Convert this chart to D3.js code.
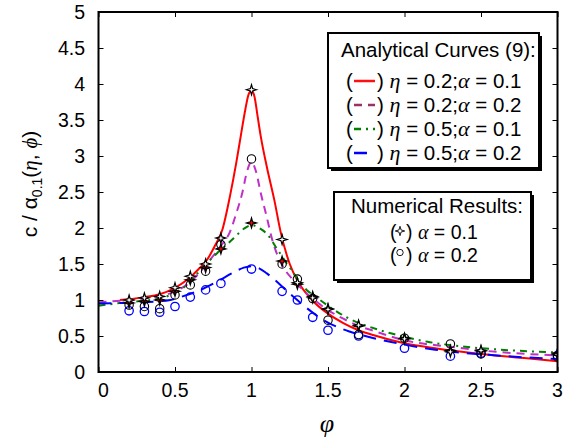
<!DOCTYPE html>
<html><head><meta charset="utf-8">
<script src="https://cdn.jsdelivr.net/npm/d3@7"></script>
<style>body{margin:0;background:#fff}svg{display:block}</style>
</head><body><svg id="c" width="564" height="442"></svg>
<script>
// ---- data ----
const xTicks = [0, 0.5, 1, 1.5, 2, 2.5, 3];
const yTicks = [0, 0.5, 1, 1.5, 2, 2.5, 3, 3.5, 4, 4.5, 5];
const xTickLabels = ["0", "0.5", "1", "1.5", "2", "2.5", "3"];
const yTickLabels = ["0", "0.5", "1", "1.5", "2", "2.5", "3", "3.5", "4", "4.5", "5"];

// analytical curves
const curveRed = [[0.14,1.0],[0.2,1.01],[0.3,1.04],[0.4,1.08],[0.5,1.17],[0.58,1.28],[0.65,1.42],[0.71,1.56],[0.76,1.75],[0.81,1.98],[0.86,2.45],[0.9,2.9],[0.93,3.28],[0.96,3.65],[0.98,3.85],[1.0,3.91],[1.02,3.82],[1.04,3.55],[1.06,3.28],[1.1,2.85],[1.15,2.38],[1.19,1.95],[1.25,1.5],[1.3,1.27],[1.4,0.99],[1.5,0.81],[1.6,0.68],[1.7,0.58],[1.8,0.51],[2.0,0.40],[2.2,0.33],[2.5,0.25],[2.8,0.19],[3.0,0.15]];
const curvePurple = [[0.0,0.97],[0.15,0.99],[0.3,1.02],[0.4,1.05],[0.5,1.12],[0.6,1.25],[0.66,1.38],[0.73,1.56],[0.8,1.75],[0.86,1.95],[0.9,2.2],[0.94,2.49],[0.97,2.78],[1.0,2.92],[1.03,2.78],[1.06,2.49],[1.1,2.15],[1.135,1.84],[1.17,1.62],[1.21,1.45],[1.29,1.24],[1.4,1.02],[1.5,0.86],[1.6,0.74],[1.7,0.64],[1.8,0.57],[2.0,0.44],[2.3,0.35],[2.6,0.28],[3.0,0.23]];
const curveGreen = [[0.0,0.92],[0.15,0.96],[0.3,0.99],[0.4,1.02],[0.5,1.1],[0.6,1.25],[0.667,1.42],[0.775,1.65],[0.885,1.86],[0.95,1.99],[1.0,2.04],[1.05,2.0],[1.1,1.92],[1.17,1.70],[1.25,1.45],[1.36,1.14],[1.41,1.06],[1.5,0.92],[1.63,0.75],[1.84,0.58],[2.0,0.49],[2.15,0.42],[2.4,0.35],[2.63,0.31],[3.0,0.27]];
const curveBlue = [[0.0,0.95],[0.15,0.96],[0.3,0.97],[0.47,1.0],[0.55,1.05],[0.667,1.14],[0.78,1.26],[0.88,1.38],[0.95,1.45],[1.0,1.47],[1.05,1.44],[1.1,1.37],[1.25,1.09],[1.36,0.89],[1.47,0.72],[1.63,0.57],[1.8,0.47],[2.0,0.38],[2.2,0.31],[2.6,0.23],[3.0,0.18]];

// numerical results
const phiNum   = [0.2,0.3,0.4,0.5,0.6,0.7,0.8,1.0,1.2,1.3,1.4,1.5,1.7,2.0,2.3,2.5,3.0];
const starEta02 = [1.00,1.03,1.05,1.17,1.33,1.50,1.86,3.92,1.84,1.24,1.03,0.87,0.65,0.46,0.28,0.30,0.24];
const starEta05 = [0.96,0.98,1.00,1.12,1.28,1.45,1.71,2.07,1.54,1.22,1.05,0.88,0.64,0.47,0.30,0.29,0.26];
const circEta02 = [0.93,0.91,0.88,1.07,1.21,1.40,1.77,2.96,1.50,1.29,1.02,0.72,0.52,0.47,0.39,0.25,0.21];
const circEta05 = [0.85,0.84,0.83,0.91,1.04,1.14,1.23,1.43,1.12,1.00,0.76,0.58,0.50,0.33,0.22,0.26,0.23];

const legendCurves = [
  {eta:"0.2", alpha:"0.1"},
  {eta:"0.2", alpha:"0.2"},
  {eta:"0.5", alpha:"0.1"},
  {eta:"0.5", alpha:"0.2"}
];
const legendNum = ["0.1", "0.2"];

// ---- drawing ----
const svg = d3.select("#c");
const L = 98.5, R = 557.5, T = 12, B = 372;
const x = d3.scaleLinear().domain([0,3]).range([L,R]);
const y = d3.scaleLinear().domain([0,5]).range([B,T]);
const sans = "'Liberation Sans', Arial, sans-serif";
const serif = "'Liberation Serif', 'Times New Roman', serif";

const styles = [
  {color:"#ff0000", dash:null, legColor:"#ff1010"},
  {color:"#c030c8", dash:"8,6", legColor:"#993366"},
  {color:"#008000", dash:"7,5,2,5", legColor:"#008000"},
  {color:"#0000ff", dash:"13,8", legColor:"#0000ff"}
];

// axes with inward ticks
const axB = d3.axisBottom(x).tickValues(xTicks).tickSize(-5).tickFormat("");
const axT = d3.axisTop(x).tickValues(xTicks).tickSize(-5).tickFormat("");
const axL = d3.axisLeft(y).tickValues(yTicks).tickSize(-5).tickFormat("");
const axR = d3.axisRight(y).tickValues(yTicks).tickSize(-5).tickFormat("");
[[axB,`translate(0,${B})`],[axT,`translate(0,${T})`],[axL,`translate(${L},0)`],[axR,`translate(${R},0)`]].forEach(([a,t])=>{
  const g = svg.append("g").attr("transform",t).call(a);
  g.select(".domain").remove();
  g.selectAll("line").attr("stroke","#000").attr("stroke-width",1);
});

// tick labels
svg.append("g").selectAll("text").data(xTicks).join("text")
  .attr("x",(d,i)=>x(d)+(i===0?5:0)).attr("y",397)
  .attr("text-anchor","middle").attr("font-family",sans).attr("font-size",19.5)
  .text((d,i)=>xTickLabels[i]);
svg.append("g").selectAll("text").data(yTicks).join("text")
  .attr("x",85).attr("y",d=>y(d)+7)
  .attr("text-anchor","end").attr("font-family",sans).attr("font-size",19.5)
  .text((d,i)=>yTickLabels[i]);

// axis titles
const yl = svg.append("text").attr("transform","translate(37,184) rotate(-90)")
  .attr("text-anchor","middle").attr("font-family",sans).attr("font-size",21);
yl.append("tspan").text("c / α");
yl.append("tspan").attr("font-size",14).attr("dy",5).text("0.1");
yl.append("tspan").attr("dy",-5).text("(");
yl.append("tspan").attr("font-family",serif).attr("font-style","italic").text("η");
yl.append("tspan").text(", ");
yl.append("tspan").attr("font-family",serif).attr("font-style","italic").text("ϕ");
yl.append("tspan").text(")");

svg.append("text").attr("x",327).attr("y",432).attr("text-anchor","middle")
  .attr("font-family",serif).attr("font-style","italic").attr("font-size",26).text("φ");

// clip
svg.append("clipPath").attr("id","clip").append("rect").attr("x",L).attr("y",T).attr("width",R-L).attr("height",B-T);
const plot = svg.append("g").attr("clip-path","url(#clip)");

const line = d3.line().x(d=>x(d[0])).y(d=>y(d[1])).curve(d3.curveMonotoneX);
[curveRed, curvePurple, curveGreen, curveBlue].forEach((c,i)=>{
  plot.append("path").datum(c).attr("d",line).attr("fill","none")
    .attr("stroke",styles[i].color).attr("stroke-width",2)
    .attr("stroke-dasharray",styles[i].dash);
});

// 4-point star symbol
const star4 = {draw(ctx,size){
  const Ro = Math.sqrt(size), ri = Ro*0.32;
  for(let k=0;k<8;k++){
    const a = -Math.PI/2 + k*Math.PI/4;
    const rr = k%2===0?Ro:ri;
    const px = rr*Math.cos(a), py = rr*Math.sin(a);
    if(k===0) ctx.moveTo(px,py); else ctx.lineTo(px,py);
  }
  ctx.closePath();
}};
const starPath = d3.symbol().type(star4).size(25)();

// circles
plot.append("g").selectAll("circle").data(phiNum).join("circle")
  .attr("cx",d=>x(d)).attr("cy",(d,i)=>y(circEta05[i])).attr("r",4.2)
  .attr("fill","none").attr("stroke","#0000ff").attr("stroke-width",1.3);
plot.append("g").selectAll("circle").data(phiNum).join("circle")
  .attr("cx",d=>x(d)).attr("cy",(d,i)=>y(circEta02[i])).attr("r",4.2)
  .attr("fill","none").attr("stroke","#000").attr("stroke-width",1.1);
// stars
plot.append("g").selectAll("path").data(phiNum).join("path")
  .attr("d",starPath).attr("transform",(d,i)=>`translate(${x(d)},${y(starEta05[i])})`)
  .attr("fill","#ff0000").attr("stroke","#000").attr("stroke-width",1.2);
plot.append("g").selectAll("path").data(phiNum).join("path")
  .attr("d",starPath).attr("transform",(d,i)=>`translate(${x(d)},${y(starEta02[i])})`)
  .attr("fill","#fff").attr("stroke","#000").attr("stroke-width",1.2);

// frame
svg.append("rect").attr("x",L).attr("y",T).attr("width",R-L).attr("height",B-T)
  .attr("fill","none").attr("stroke","#000").attr("stroke-width",2);

// legend 1
function box(x0,y0,w,h){
  svg.append("rect").attr("x",x0+3).attr("y",y0+3).attr("width",w).attr("height",h).attr("fill","#000");
  svg.append("rect").attr("x",x0).attr("y",y0).attr("width",w).attr("height",h).attr("fill","#fff").attr("stroke","#000").attr("stroke-width",2);
}
box(328,33,211,135);
svg.append("text").attr("x",341).attr("y",57).attr("font-family",sans).attr("font-size",20.5).text("Analytical Curves (9):");
legendCurves.forEach((d,i)=>{
  const by = 88 + i*24;
  svg.append("line").attr("x1",354).attr("x2",375).attr("y1",by-7).attr("y2",by-7)
    .attr("stroke",styles[i].legColor).attr("stroke-width",2.5).attr("stroke-dasharray",styles[i].dash);
  const t = svg.append("text").attr("x",346).attr("y",by).attr("font-family",sans).attr("font-size",20.5);
  t.append("tspan").text("(");
  t.append("tspan").attr("x",377).text(") ");
  t.append("tspan").attr("font-family",serif).attr("font-style","italic").attr("font-size",22).text("η");
  t.append("tspan").text(" = "+d.eta+";");
  t.append("tspan").attr("font-family",serif).attr("font-style","italic").attr("font-size",22).text("α");
  t.append("tspan").text(" = "+d.alpha);
});

// legend 2
box(334,192,197,88);
svg.append("text").attr("x",351).attr("y",213).attr("font-family",sans).attr("font-size",20.5).text("Numerical Results:");
legendNum.forEach((a,i)=>{
  const by = 239 + i*22.5;
  const t = svg.append("text").attr("x",390).attr("y",by).attr("font-family",sans).attr("font-size",19.5);
  t.append("tspan").text("(");
  t.append("tspan").attr("x",406).text(") ");
  t.append("tspan").attr("font-family",serif).attr("font-style","italic").attr("font-size",20).text("α");
  t.append("tspan").text(" = "+a);
  if(i===0){
    svg.append("path").attr("d",d3.symbol().type(star4).size(22)()).attr("transform",`translate(400,${by-8})`)
      .attr("fill","#fff").attr("stroke","#000").attr("stroke-width",0.9);
  } else {
    svg.append("circle").attr("cx",400).attr("cy",by-9).attr("r",3.2).attr("fill","none").attr("stroke","#000").attr("stroke-width",0.9);
  }
});
</script></body></html>
